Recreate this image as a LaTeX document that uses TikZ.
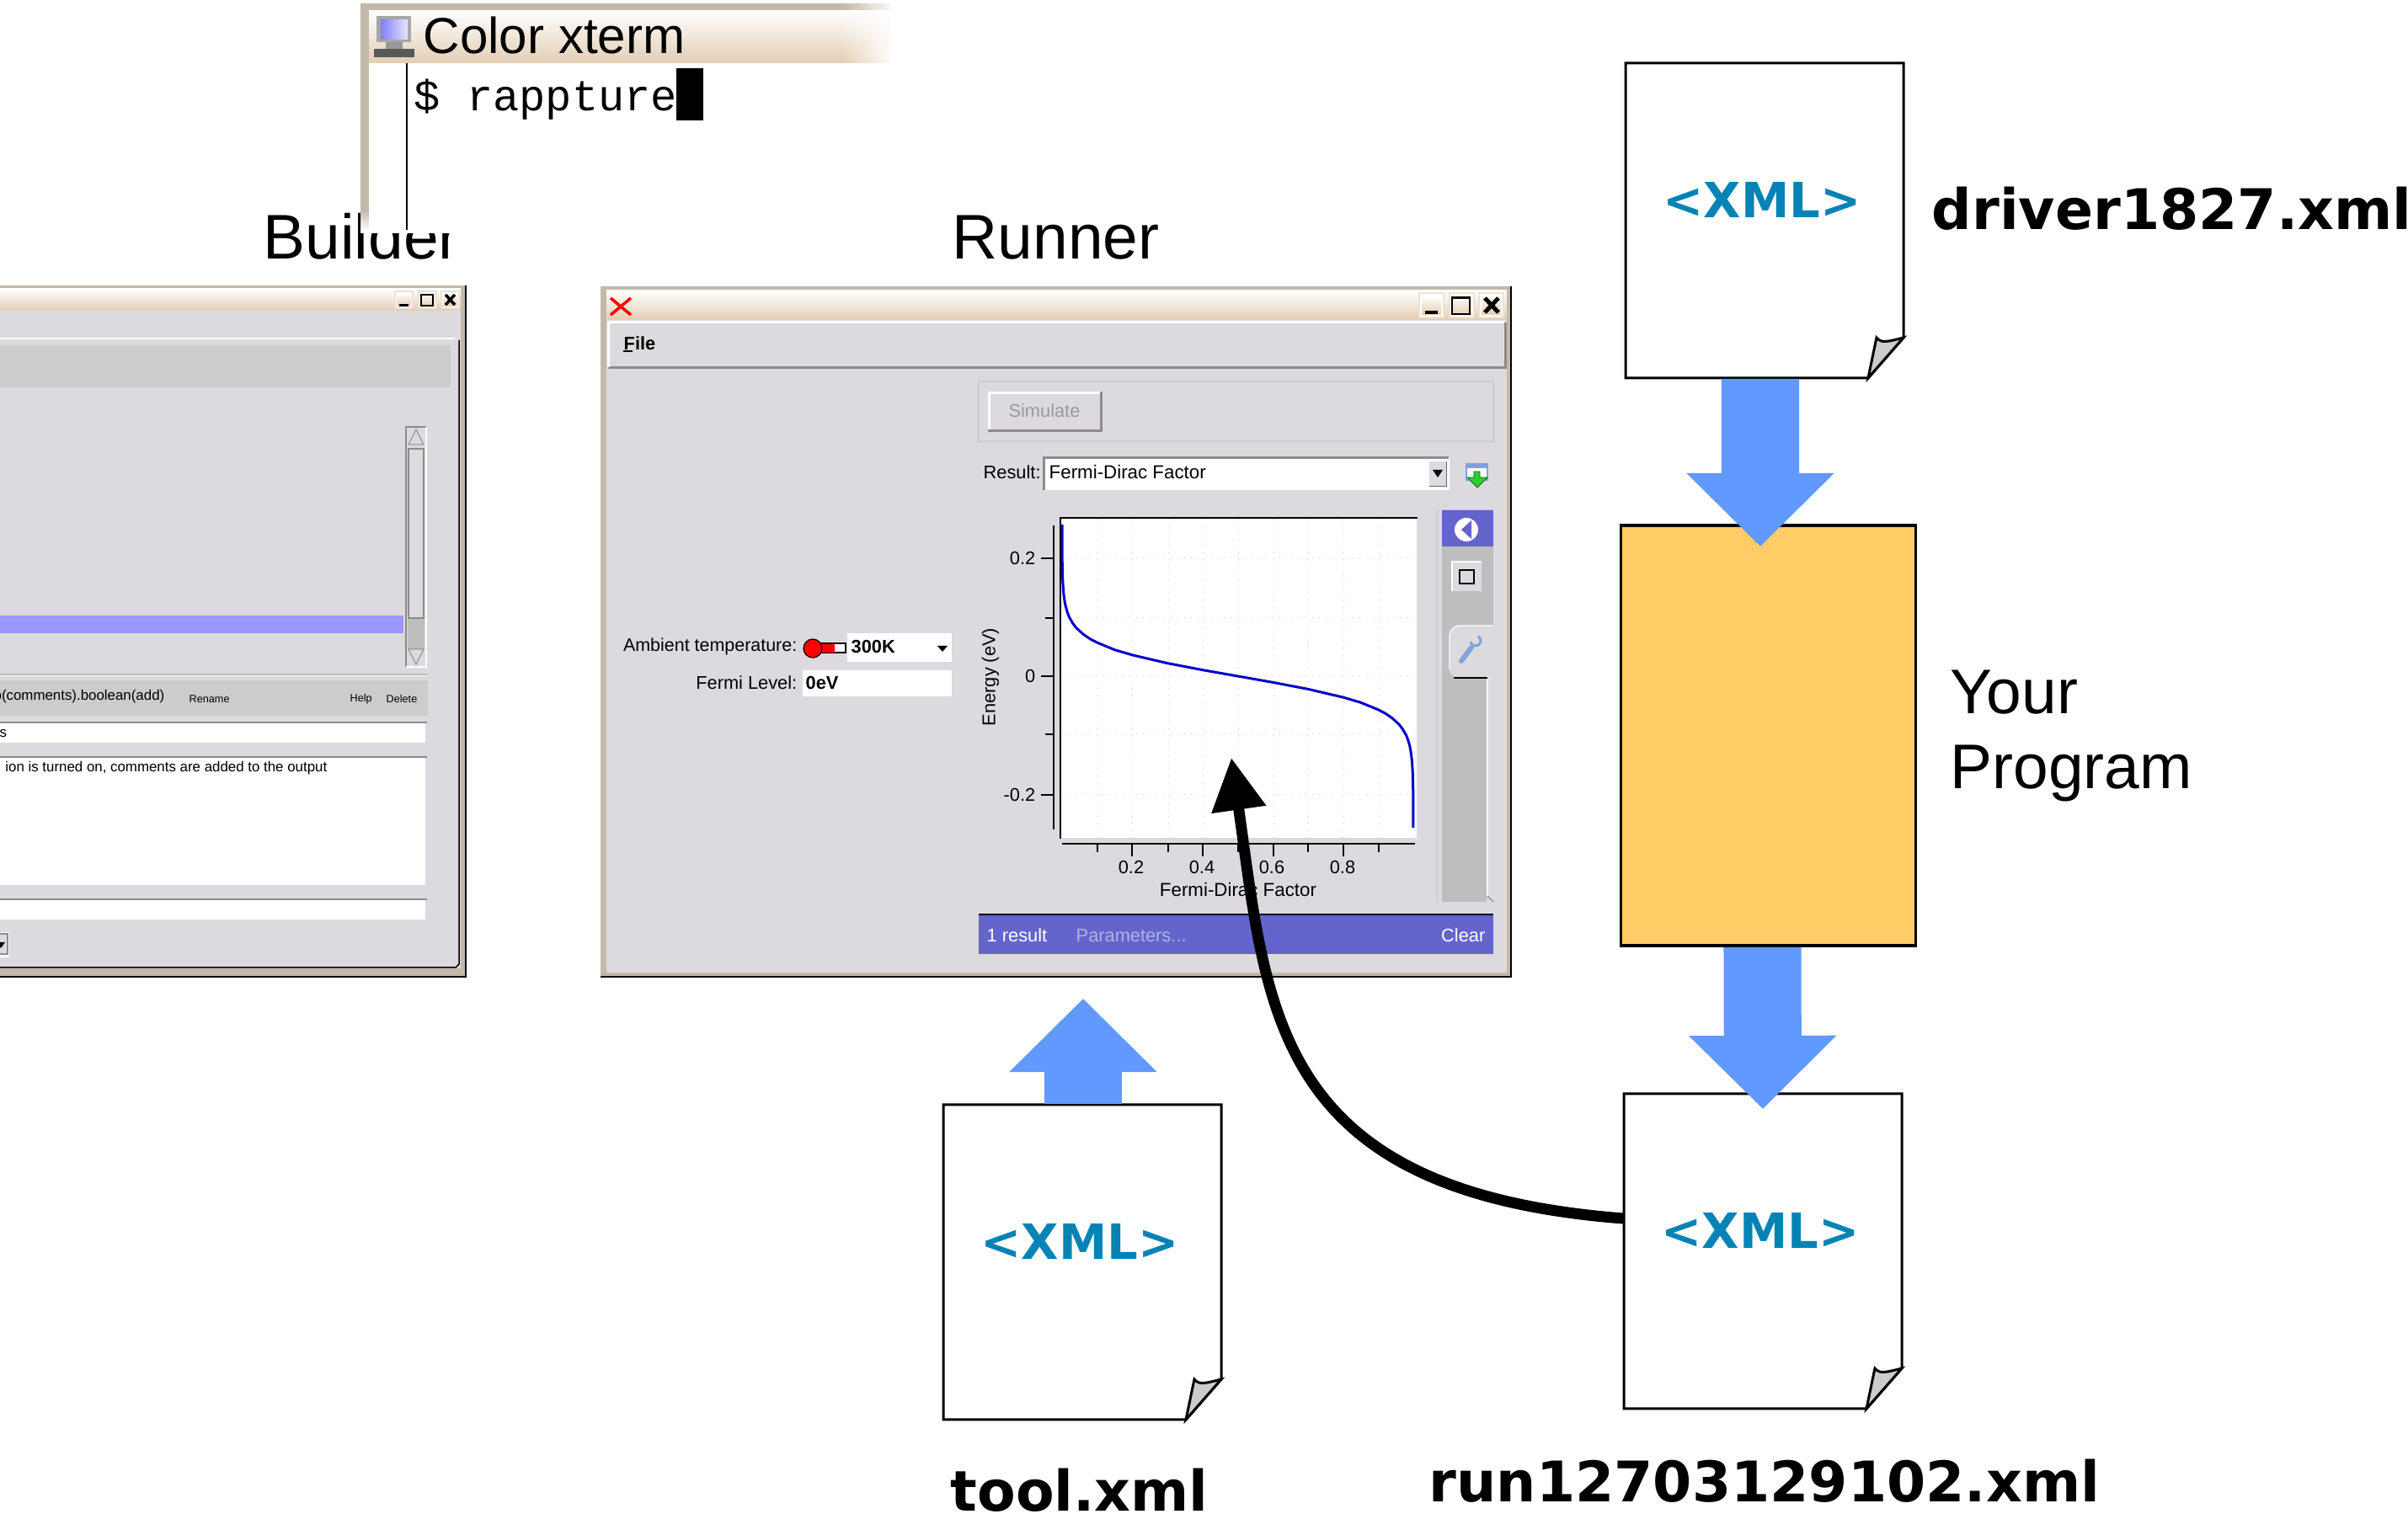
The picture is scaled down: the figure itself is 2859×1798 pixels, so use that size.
\documentclass[tikz,border=0pt]{standalone}
\usepackage{fontspec}
\setmainfont{Liberation Sans}
\setmonofont{Liberation Mono}
\newfontfamily\docfont{DejaVu Sans}
\usetikzlibrary{arrows.meta, fadings}

\definecolor{framegray}{HTML}{C4B8A9}
\definecolor{titletan}{HTML}{E3CDB3}
\definecolor{panelgray}{HTML}{DCDADF}
\definecolor{bandgray}{HTML}{CCCCCC}
\definecolor{toolgray}{HTML}{BEBEBE}
\definecolor{edgegray}{HTML}{8C8C8C}
\definecolor{selectblue}{HTML}{9999FF}
\definecolor{barblue}{HTML}{6464CC}
\definecolor{flowblue}{HTML}{6199FF}
\definecolor{progorange}{HTML}{FFCC66}
\definecolor{xmlblue}{HTML}{0583B5}
\definecolor{foldgray}{HTML}{CCCCCC}
\definecolor{wrenchblue}{HTML}{7FA3D8}

\tikzset{
  biglabel/.style={font=\fontsize{21.3}{25}\selectfont, inner sep=0, anchor=base west},
  filelabel/.style={font=\docfont\bfseries\fontsize{18.9}{22}\selectfont, inner sep=0, anchor=base west},
  xmltext/.style={font=\docfont\bfseries\fontsize{16.4}{19}\selectfont, text=xmlblue, inner sep=0},
  uitext/.style={font=\fontsize{6.2}{8}\selectfont, inner sep=0},
  tinytext/.style={font=\fontsize{4.8}{6}\selectfont, inner sep=0},
  smalltext/.style={font=\fontsize{3.6}{5}\selectfont, inner sep=0},
  docline/.style={draw=black, line width=0.03cm, fill=white},
  progbox/.style={draw=black, line width=0.035cm, fill=progorange, minimum width=3.5cm, minimum height=4.99cm},
  blockarrow/.style={draw=flowblue, line width=0.92cm, -{Triangle[length=0.87cm, width=1.7cm]}},
  flowarrow/.style={draw=black, line width=0.13cm, -{Triangle[length=0.62cm, width=0.62cm]}},
  titlebar/.style={top color=white, bottom color=titletan, draw=none},
  plotgrid/.style={draw=black!20, line width=0.01cm, dotted},
  axisline/.style={draw=black, line width=0.025cm}
}

\newcommand{\xmldoc}[3]{
  \begin{scope}[shift={(#2,#3)}]
    \draw[docline] (0,0) -- (330,0) -- (330,326) -- (288,374) -- (0,374) -- cycle;
    \draw[docline, fill=foldgray] (288,374) -- (298,326) .. controls (304,333) and (310,331) .. (330,326) -- cycle;
    \node[minimum width=3.3cm, minimum height=3.74cm, inner sep=0] (#1) at (165,187) {};
    \node[xmltext] (#1xml) at (162,162) {<XML>};
  \end{scope}
}

\begin{document}
\begin{tikzpicture}[x=0.01cm, y=-0.01cm]
  \path[use as bounding box, clip] (0,0) rectangle (2859,1798);
  \fill[white] (0,0) rectangle (2859,1798);

  % builder window
  \node[biglabel] (builderlabel) at (312,308) {Builder};
  \fill[framegray] (-20,339) rectangle (554,1161);
  \draw[black, line width=0.02cm] (-20,1160) -- (553,1160) -- (553,339);
  \fill[panelgray] (-20,343) rectangle (547,1150);
  \fill[titlebar] (-20,343) rectangle (547,369);
  \foreach \bx in {468,496,523} {
    \fill[titletan!60!white] (\bx,345) rectangle ++(23,22);
    \fill[white] (\bx+2,347) rectangle ++(19,18);
    \shade[titlebar] (\bx+3,348) rectangle ++(17,16);
  }
  \draw[black, line width=0.03cm] (474,363) -- (485,363);
  \draw[black, line width=0.025cm] (500,350) rectangle (514,363);
  \draw[black, line width=0.035cm] (529,350) -- (540,362) (540,350) -- (529,362);
  \draw[white, line width=0.025cm] (-20,402) -- (540,402);
  \draw[black, line width=0.015cm] (545,404) -- (545,1145) -- (541,1149) -- (-20,1149);
  \fill[bandgray] (-20,410) rectangle (535,460);
  % scrollbar
  \fill[toolgray] (484,734) rectangle (504,771);
  \draw[edgegray, line width=0.025cm] (482,792) -- (482,507) -- (506,507);
  \draw[white, line width=0.02cm] (506,507) -- (506,792) -- (482,792);
  \draw[edgegray, fill=panelgray, line width=0.01cm] (485,528) -- (494,510) -- (503,528) -- cycle;
  \draw[edgegray, fill=panelgray, line width=0.01cm] (485,771) -- (494,789) -- (503,771) -- cycle;
  \draw[edgegray, line width=0.012cm] (485,734) -- (485,533) -- (503,533) -- (503,734) -- cycle;
  \fill[selectblue] (-20,731) rectangle (479,752);
  \draw[edgegray!60, line width=0.015cm] (-20,801) -- (508,801);
  \draw[white, line width=0.01cm] (-20,803) -- (508,803);
  \fill[bandgray] (-20,808) rectangle (508,850);
  \node[tinytext, anchor=east] (buildername) at (196,827) {p(comments).boolean(add)};
  \node[smalltext, anchor=west] (renamebtn) at (224,830) {Rename};
  \node[smalltext, anchor=west] (helpbtn) at (415,830) {Help};
  \node[smalltext, anchor=west] (deletebtn) at (458,830) {Delete};
  \foreach \ya/\yb in {858/882, 899/1051, 1068/1092} {
    \fill[white] (-20,\ya) rectangle (505,\yb);
    \draw[edgegray, line width=0.025cm] (-20,\ya) -- (507,\ya);
  }
  \node[tinytext, anchor=west] (labelfield) at (-1,871) {s};
  \node[tinytext, anchor=east] (descfield) at (389,912) {ion is turned on, comments are added to the output};
  \fill[white] (-20,1107) rectangle (11,1137);
  \draw[edgegray, fill=panelgray, line width=0.015cm] (-20,1109) -- (9,1109) -- (9,1133) -- (-20,1133);
  \fill[black] (-3,1119) -- (6,1119) -- (1,1126) -- cycle;

  % terminal over the builder label
  \fill[white] (428,0) rectangle (1065,277);
  \fill[framegray] (428,4) rectangle (438,250);
  \shade[top color=framegray, bottom color=white] (428,250) rectangle (438,274);
  \fill[framegray] (428,4) rectangle (1062,13);
  \shade[top color=white, bottom color=titletan] (438,13) rectangle (1062,75);
  \fill[white, path fading=west] (1000,0) rectangle (1062,80);
  \fill[white] (1058,0) rectangle (1065,80);
  \draw[black, line width=0.02cm] (483,75) -- (483,273);
  % terminal icon
  \fill[black!35] (447,19) rectangle (488,50);
  \shade[left color=blue!50!white, right color=blue!10!white] (452,24) rectangle (484,47);
  \fill[black!40] (458,50) rectangle (478,58);
  \fill[black!65] (444,58) rectangle (492,68);
  \node[font=\fontsize{17.1}{20}\selectfont, inner sep=0, anchor=base west] (xtermtitle) at (502,64) {Color xterm};
  \node[font=\ttfamily\fontsize{14.8}{18}\selectfont, inner sep=0, anchor=base west] (xtermprompt) at (491,132) {\$ rappture};
  \fill[black] (803,81) rectangle (835,143);

  % runner window
  \node[biglabel] (runnerlabel) at (1130,308) {Runner};
  \fill[framegray] (713,340) rectangle (1794,1160);
  \draw[black, line width=0.02cm] (713,1160) -- (1794,1160) -- (1794,340);
  \fill[panelgray] (720,345) rectangle (1789,1155);
  \fill[titlebar] (720,345) rectangle (1789,380);
  \draw[red, line width=0.035cm] (725,354) -- (749,374) (749,354) -- (725,374);
  \foreach \bx in {1684,1720,1755} {
    \fill[titletan!60!white] (\bx,347) rectangle ++(31,31);
    \fill[white] (\bx+2,349) rectangle ++(27,27);
    \shade[titlebar] (\bx+4,351) rectangle ++(23,23);
  }
  \draw[black, line width=0.04cm] (1692,371) -- (1707,371);
  \draw[black, line width=0.025cm] (1724,353) rectangle (1745,373);
  \draw[black, line width=0.02cm] (1724,354) -- (1745,354);
  \draw[black, line width=0.05cm] (1763,354) -- (1779,371) (1779,354) -- (1763,371);
  % menu bar
  \draw[edgegray, line width=0.03cm] (722,437) -- (1787,437) -- (1787,383);
  \draw[white, line width=0.03cm] (722,436) -- (722,383) -- (1786,383);
  \node[uitext, font=\bfseries\fontsize{6.2}{8}\selectfont, anchor=west] (filemenu) at (740,408) {File};
  \draw[black, line width=0.015cm] (740,417) -- (751,417);
  % simulate panel
  \draw[black!20, line width=0.015cm] (1162,453) rectangle (1773,524);
  \fill[edgegray] (1173,465) rectangle (1309,513);
  \fill[white] (1173,465) rectangle (1306,510);
  \fill[panelgray] (1176,468) rectangle (1306,510);
  \node[uitext, text=black!40] (simulatebtn) at (1240,488) {Simulate};
  \node[uitext, anchor=west] (resultlabel) at (1167,561) {Result:};
  \fill[white] (1239,543) rectangle (1721,582);
  \draw[edgegray, line width=0.03cm] (1239,582) -- (1239,544) -- (1720,544);
  \node[uitext, font=\fontsize{6.35}{8}\selectfont, anchor=west] (resultchoice) at (1245,561) {Fermi-Dirac Factor};
  \fill[panelgray] (1697,548) rectangle (1717,578);
  \draw[black!60, line width=0.01cm] (1697,578) -- (1717,578) -- (1717,548);
  \fill[black] (1701,558) -- (1713,558) -- (1707,567) -- cycle;
  % download icon
  \draw[wrenchblue, fill=white, line width=0.025cm] (1741,551) rectangle (1766,570);
  \fill[wrenchblue] (1741,551) rectangle (1766,556);
  \draw[green!45!black, fill=green!75!black!80, line width=0.008cm] (1750,560) -- (1757,560) -- (1757,567) -- (1766,567) -- (1754,579) -- (1742,567) -- (1750,567) -- cycle;
  % plot
  \fill[white] (1259,614) rectangle (1682,996);
  \foreach \gx in {1303,1344,1387,1428,1470,1512,1553,1595,1637} {
    \draw[plotgrid] (\gx,616) -- (\gx,994);
  }
  \foreach \gy in {663,734,803,872,944} {
    \draw[plotgrid] (1261,\gy) -- (1680,\gy);
  }
  \draw[black!15, line width=0.02cm] (1260,996) -- (1680,996);
  \draw[axisline] (1683,615) -- (1259,615) -- (1259,996);
  \draw[axisline] (1251,624) -- (1251,985);
  \draw[axisline, line width=0.018cm] (1261,1002) -- (1680,1002);
  \foreach \gx in {1303,1387,1470,1553,1637} {
    \draw[axisline, line width=0.015cm] (\gx,1002) -- (\gx,1012);
  }
  \foreach \gx in {1344,1428,1512,1595} {
    \draw[axisline, line width=0.015cm] (\gx,1002) -- (\gx,1017);
  }
  \foreach \gy in {663,803,944} {
    \draw[axisline, line width=0.015cm] (1236,\gy) -- (1251,\gy);
  }
  \foreach \gy in {734,872} {
    \draw[axisline, line width=0.015cm] (1241,\gy) -- (1251,\gy);
  }
  \foreach \tx/\tlab in {1343/0.2, 1427/0.4, 1510/0.6, 1594/0.8} {
    \node[uitext] (xtick\tlab) at (\tx,1030) {\tlab};
  }
  \node[uitext, font=\fontsize{6.35}{8}\selectfont] (xaxislabel) at (1470,1057) {Fermi-Dirac Factor};
  \node[uitext, anchor=east] (ytickhi) at (1230,663) {0.2};
  \node[uitext, anchor=east] (ytickmid) at (1230,803) {0};
  \node[uitext, anchor=east] (yticklo) at (1230,944) {-0.2};
  \node[uitext, rotate=90] (yaxislabel) at (1176,804) {Energy (eV)};
  \draw[blue!80!black, line width=0.03cm, variable=\ff,
    samples at={0.00005,0.0001,0.0002,0.0005,0.001,0.002,0.004,0.007,0.01,0.015,0.02,0.03,0.04,0.06,0.08,0.1,0.15,0.2,0.3,0.4,0.5,0.6,0.7,0.8,0.85,0.9,0.92,0.94,0.96,0.97,0.98,0.985,0.99,0.993,0.996,0.998,0.999,0.9995,0.9998,0.9999,0.99995}]
    plot ({1261+417*\ff}, {803-18.13*(ln(1-\ff)-ln(\ff))});
  % side toolbar
  \draw[black!18, line width=0.03cm] (1706,605) -- (1706,1071);
  \fill[toolgray] (1712,605) rectangle (1773,743);
  \fill[toolgray] (1712,743) rectangle (1765,1071);
  \fill[barblue] (1712,606) rectangle (1773,649);
  \fill[white] (1741,629) circle (14);
  \fill[barblue] (1747,618) -- (1735,629) -- (1747,640) -- cycle;
  \fill[panelgray] (1724,667) rectangle (1759,702);
  \draw[white, line width=0.012cm] (1724,702) -- (1724,667) -- (1759,667);
  \draw[black, fill=panelgray, line width=0.025cm] (1733,677) rectangle (1750,693);
  \fill[panelgray] (1773,743) -- (1733,743) to[out=180, in=90] (1721,755) -- (1721,795) to[out=-90, in=180] (1733,805) -- (1773,805) -- cycle;
  \draw[white, line width=0.012cm] (1773,743) -- (1733,743) to[out=180, in=90] (1721,755) -- (1721,795);
  \draw[black, line width=0.025cm] (1726,805) -- (1766,805);
  \draw[white, line width=0.015cm] (1766,806) -- (1766,1064);
  \draw[edgegray, line width=0.012cm] (1766,1064) -- (1773,1071);
  \draw[wrenchblue, line width=0.06cm, line cap=round] (1735,785) -- (1747,769);
  \draw[wrenchblue, line width=0.03cm] (1746,762) arc[start angle=170, end angle=-60, radius=6];
  % result bar
  \fill[barblue] (1162,1087) rectangle (1773,1133);
  \draw[black, line width=0.02cm] (1162,1086) -- (1773,1086);
  \node[uitext, text=white, anchor=west] (resultcount) at (1171,1111) {1 result};
  \node[uitext, text=white!50!barblue, anchor=west] (paramslink) at (1277,1111) {Parameters...};
  \node[uitext, text=white, anchor=east] (clearlink) at (1764,1111) {Clear};
  % input fields
  \node[uitext, font=\fontsize{6.1}{8}\selectfont, anchor=east] (ambientlabel) at (947,768) {Ambient temperature:};
  \fill[white] (1006,752) rectangle (1130,786);
  \draw[black, fill=white, line width=0.012cm] (965,764) rectangle (1004,775);
  \fill[red] (965,765) rectangle (991,775);
  \draw[black, fill=red, line width=0.012cm] (965,770) circle (11);
  \node[uitext, font=\bfseries\fontsize{6.2}{8}\selectfont, anchor=west] (ambientvalue) at (1010,768) {300K};
  \fill[black] (1113,767) -- (1125,767) -- (1119,774) -- cycle;
  \node[uitext, anchor=east] (fermilabel) at (947,811) {Fermi Level:};
  \fill[white] (953,796) rectangle (1130,827);
  \node[uitext, font=\bfseries\fontsize{6.2}{8}\selectfont, anchor=west] (fermivalue) at (956,811) {0eV};

  % program and files
  \node[progbox] (prog) at (2099.5,873.5) {};
  \xmldoc{docdriver}{1930}{75}
  \xmldoc{doctool}{1120}{1312}
  \xmldoc{docrun}{1928}{1299}
  \node[filelabel] (driverlabel) at (2293,273) {driver1827.xml};
  \node[filelabel] (toollabel) at (1128,1794) {tool.xml};
  \node[filelabel] (runlabel) at (1696,1784) {run12703129102.xml};
  \node[biglabel] (yourlabel) at (2315,848) {Your};
  \node[biglabel] (programlabel) at (2315,937) {Program};

  \coordinate (drivertip) at (2090,649);
  \coordinate (runtip) at (2093,1317);
  \coordinate (tooltip) at (1286,1186);
  \coordinate (plottip) at (1462,900);
  \draw[blockarrow] ([xshift=-0.05cm]docdriver.south) -- (drivertip);
  \draw[blockarrow] ([xshift=-0.07cm]prog.south) -- (runtip);
  \draw[blockarrow] ([xshift=0.01cm]doctool.north) -- (tooltip);
  \draw[flowarrow] ([yshift=0.39cm]docrun.west) .. controls (1510,1415) and (1505,1200) .. (plottip);
\end{tikzpicture}
\end{document}
